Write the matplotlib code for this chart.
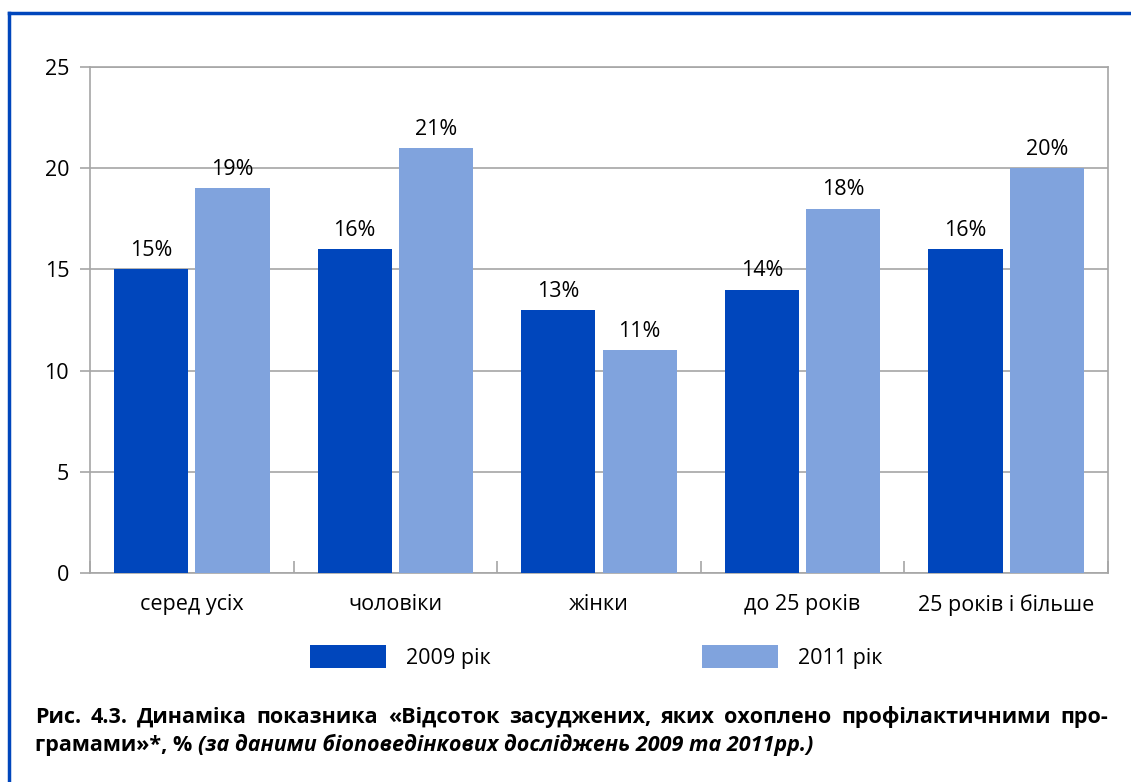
import matplotlib.pyplot as plt
import matplotlib.lines as mlines
import numpy as np

# Data
categories = ['серед усіх', 'чоловіки', 'жінки', 'до 25 років', '25 років і більше']
values_2009 = [15, 16, 13, 14, 16]
values_2011 = [19, 21, 11, 18, 20]
series_names = ['2009 рік', '2011 рік']

dark = '#0046BC'
light = '#80A3DD'
grid_col = '#A6A6A6'
font = 'Open Sans'
fs = 15.5

plt.rcParams['font.family'] = [font, 'DejaVu Sans']

fig = plt.figure(figsize=(11.31, 7.82), dpi=100)
ax = fig.add_axes([90 / 1131, 1 - 573 / 782, (1108 - 90) / 1131, (573 - 67) / 782])

x = np.arange(len(categories))
w = 0.365
b1 = ax.bar(x - 0.2, values_2009, w, color=dark, label=series_names[0], zorder=3)
b2 = ax.bar(x + 0.2, values_2011, w, color=light, label=series_names[1], zorder=3)

for bars, vals in ((b1, values_2009), (b2, values_2011)):
    for bar, v in zip(bars, vals):
        ax.annotate(f'{v}%', (bar.get_x() + bar.get_width() / 2, v),
                    xytext=(0, 6), textcoords='offset points',
                    ha='center', va='bottom', fontsize=fs, color='black')

ax.set_xlim(-0.5, len(categories) - 0.5)
ax.set_ylim(0, 25)
ax.set_yticks(range(0, 26, 5))
ax.yaxis.grid(True, color=grid_col, linewidth=1.2, zorder=0)
ax.set_axisbelow(True)

ax.set_xticks(x)
ax.set_xticklabels(categories)
ax.set_xticks(np.arange(-0.5, len(categories)), minor=True)
ax.tick_params(axis='x', which='major', length=0, pad=15, labelsize=fs)
ax.tick_params(axis='x', which='minor', direction='in', length=9, color=grid_col, width=1.2)
ax.tick_params(axis='y', length=7, color=grid_col, width=1.2, pad=8, labelsize=fs)

for s in ax.spines.values():
    s.set_color(grid_col)
    s.set_linewidth(1.2)

# legend
px = fs * 100 / 72
fig.legend(loc='center left', bbox_to_anchor=(310 / 1131, 1 - 657 / 782), ncol=2,
           frameon=False, fontsize=fs, handlelength=76 / px, handleheight=26 / px,
           handletextpad=20 / px, columnspacing=211 / px, borderpad=0, borderaxespad=0)

# blue frame
fig.add_artist(mlines.Line2D([9 / 1131, 1], [1 - 13 / 782, 1 - 13 / 782], color=dark, lw=2.5))
fig.add_artist(mlines.Line2D([9 / 1131, 9 / 1131], [0, 1 - 13 / 782], color=dark, lw=2.5))

# caption, first line justified
cap_fs = 15.5
line1 = 'Рис. 4.3. Динаміка показника «Відсоток засуджених, яких охоплено профілактичними про-'.split(' ')
x0, x1 = 35, 1108
y1 = 1 - 723 / 782
y2 = 1 - 751 / 782
r = fig.canvas.get_renderer()
widths = []
for wd in line1:
    t = fig.text(0, 0, wd, fontsize=cap_fs, fontweight='bold')
    widths.append(t.get_window_extent(r).width)
    t.remove()
gap = (x1 - x0 - sum(widths)) / (len(line1) - 1)
pos = x0
for wd, wid in zip(line1, widths):
    fig.text(pos / 1131, y1, wd, fontsize=cap_fs, fontweight='bold', va='baseline')
    pos += wid + gap

t = fig.text(x0 / 1131, y2, 'грамами»*, % ', fontsize=cap_fs, fontweight='bold', va='baseline')
wid = t.get_window_extent(r).width
fig.text((x0 + wid) / 1131, y2, '(за даними біоповедінкових досліджень 2009 та 2011рр.)',
         fontsize=cap_fs, fontweight='bold', style='italic', va='baseline')

fig.savefig('out.png', dpi=100)
